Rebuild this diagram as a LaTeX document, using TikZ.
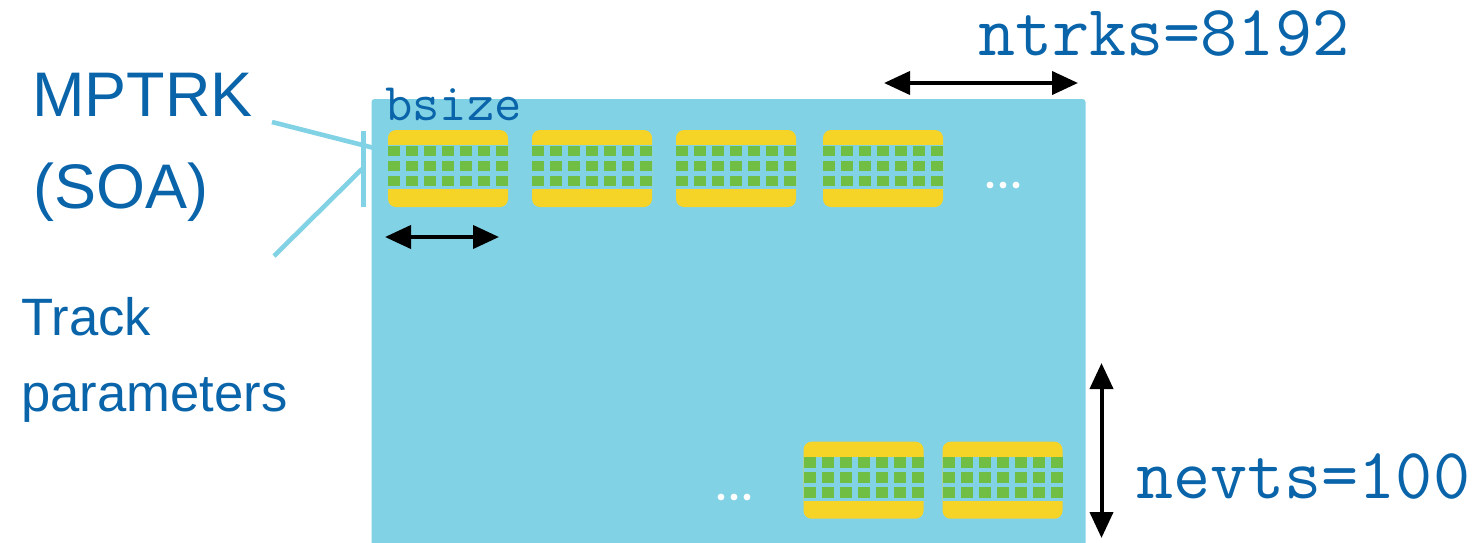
\documentclass[tikz,border=0pt]{standalone}
\usepackage{fontspec}
\setmainfont{Liberation Sans}
\usetikzlibrary{arrows.meta}
\definecolor{panelblue}{HTML}{82D2E5}
\definecolor{blockyellow}{HTML}{F5D327}
\definecolor{cellgreen}{HTML}{70BF44}
\definecolor{textblue}{HTML}{0A64AA}
\tikzset{
  dimarrow/.style={line width=2pt, black, {Triangle[length=13pt,width=11.5pt]}-{Triangle[length=13pt,width=11.5pt]}},
  leader/.style={line width=2.3pt, panelblue},
  sanslabel/.style={inner sep=0pt, anchor=base west, text=textblue},
  monolabel/.style={inner sep=0pt, anchor=base west, text=textblue},
  dot/.style={circle, fill=white, inner sep=0pt, minimum size=3.4pt},
}
\newcommand{\mpblock}[2]{%
  \fill[blockyellow, rounded corners=4pt] (#1,#2) rectangle ++(120,77);
  \fill[panelblue] (#1,#2+15) rectangle ++(120,44);
  \foreach \i in {0,...,6}{
    \foreach \j in {0,1,2}{
      \fill[cellgreen] (#1+\i*18,#2+15.5+\j*15) rectangle ++(12.4,10.6);
    }
  }%
}
\begin{document}
\begin{tikzpicture}[x=0.5pt,y=-0.5pt]
\useasboundingbox (0,0) rectangle (1481,542);
% panel
\fill[panelblue, rounded corners=1.5pt] (371.5,99) rectangle (1085.5,560);
\node[inner sep=0pt, anchor=north west, minimum width=357pt, minimum height=221.5pt] (panel) at (371.5,99) {};
% blocks
\mpblock{388}{130}
\mpblock{532}{130}
\mpblock{676}{130}
\mpblock{823}{130}
\mpblock{803.5}{441.7}
\mpblock{942.5}{441.7}
\node[inner sep=0pt, minimum width=60pt, minimum height=38.5pt, anchor=north west] (blk1) at (388,130) {};
% dots
\node[dot] (d1) at (990,185) {};
\node[dot] (d2) at (1003,185) {};
\node[dot] (d3) at (1016,185) {};
\node[dot] (e1) at (721,497) {};
\node[dot] (e2) at (734,497) {};
\node[dot] (e3) at (747,497) {};
% leader lines
\coordinate (brtop) at (363.5,131);
\coordinate (brbot) at (363.5,207);
\coordinate (l1a) at (272,122);
\coordinate (l1b) at (382,150);
\coordinate (l2a) at (274,256);
\coordinate (l2b) at (362,169);
\draw[leader] (brtop) -- (brbot);
\draw[leader] (l1a) -- (l1b);
\draw[leader] (l2a) -- (l2b);
% dimension arrows
\coordinate (bsL) at (385,237);
\coordinate (bsR) at (499,237);
\coordinate (ntL) at (884,83);
\coordinate (ntR) at (1078,83);
\coordinate (nvT) at (1101.5,363);
\coordinate (nvB) at (1101.5,538);
\draw[dimarrow] (bsL) -- (bsR);
\draw[dimarrow] (ntL) -- (ntR);
\draw[dimarrow] (nvT) -- (nvB);
% labels
\node[sanslabel, font=\fontsize{31.5}{36}\selectfont] (mptrk) at (32,116.7) {MPTRK};
\node[sanslabel, font=\fontsize{31.5}{36}\selectfont] (soa) at (33,208.3) {(SOA)};
\node[sanslabel, font=\fontsize{26.3}{30}\selectfont] (track) at (21,335) {Track};
\node[sanslabel, font=\fontsize{26.3}{30}\selectfont] (params) at (21,411.7) {parameters};
\node[monolabel, font=\ttfamily\fontsize{26.5}{30}\selectfont] (bsize) at (385,120) {bsize};
\node[monolabel, font=\ttfamily\fontsize{36}{40}\selectfont] (ntrks) at (978,55) {ntrks=8192};
\node[monolabel, font=\ttfamily\fontsize{36}{40}\selectfont] (nevts) at (1136,498.3) {nevts=100};
\end{tikzpicture}
\end{document}
